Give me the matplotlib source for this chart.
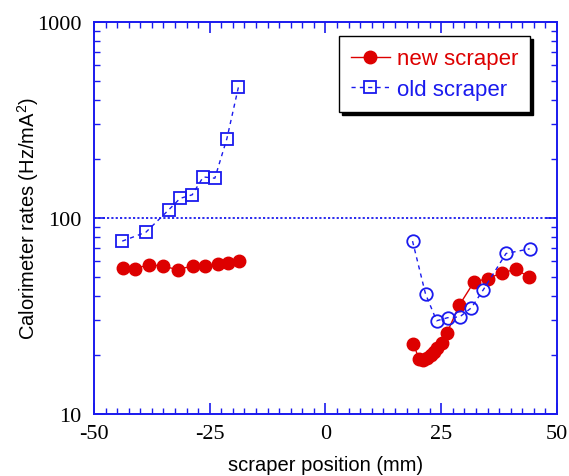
import numpy as np
import matplotlib
matplotlib.use("Agg")
import matplotlib.pyplot as plt
from matplotlib.ticker import FixedLocator, LogLocator, NullFormatter

plt.rcParams["axes.unicode_minus"] = False
plt.rcParams["mathtext.fontset"] = "custom"
plt.rcParams["mathtext.rm"] = "Liberation Sans"
plt.rcParams["mathtext.it"] = "Liberation Sans:italic"

# 数据
new_left_x = [-43.8, -41.1, -38.1, -35.0, -31.9, -28.7, -26.0, -23.2, -21.0, -18.7]
new_left_y = [55.8, 55.1, 57.9, 56.6, 54.6, 56.9, 56.6, 58.4, 59.1, 60.0]
new_right_x = [19.0, 20.2, 21.0, 21.9, 22.7, 23.4, 24.1, 25.1, 26.2, 28.9, 32.1, 35.0, 38.2, 41.1, 44.0]
new_right_y = [22.7, 19.1, 18.9, 19.2, 19.9, 20.8, 21.6, 22.9, 25.8, 35.9, 47.3, 49.0, 52.6, 54.7, 50.0]
old_left_x = [-43.9, -38.8, -33.9, -31.4, -28.8, -26.4, -23.9, -21.3, -18.8]
old_left_y = [76.2, 84.6, 109.8, 125.9, 131.3, 162.0, 159.6, 253.9, 466.0]
old_right_x = [18.8, 21.6, 24.0, 26.4, 29.0, 31.5, 34.1, 39.0, 44.1]
old_right_y = [76.2, 41.0, 29.9, 31.0, 31.3, 34.8, 43.1, 65.9, 69.6]

RED = "#dd0000"
BLUE = "#1a1aee"
SANS = "Liberation Sans"
SERIF = "Liberation Serif"

fig = plt.figure(figsize=(5.69, 4.77), dpi=100)
ax = fig.add_axes([0.1652, 0.130, 0.8137, 0.8218])

ax.plot(new_left_x, new_left_y, color=RED, lw=1, marker="o", ms=9,
        mfc=RED, mec=RED, label="new scraper")
ax.plot(new_right_x, new_right_y, color=RED, lw=1, marker="o", ms=9,
        mfc=RED, mec=RED)
ax.plot(old_left_x, old_left_y, color=BLUE, lw=1, ls=(0, (3, 3)), marker="s",
        ms=8, mfc="none", mec=BLUE, mew=1.3, label="old scraper")
ax.plot(old_right_x, old_right_y, color=BLUE, lw=1, ls=(0, (3, 3)), marker="o",
        ms=9, mfc="none", mec=BLUE, mew=1.3)

ax.axhline(100, color=BLUE, lw=1.3, ls=(0, (1.2, 1.2)))

ax.set_yscale("log")
ax.set_xlim(-50, 50)
ax.set_ylim(10, 1000)

ax.xaxis.set_major_locator(FixedLocator([-50, -25, 0, 25, 50]))
ax.xaxis.set_minor_locator(FixedLocator(np.arange(-50, 50.1, 2.5)))
ax.yaxis.set_major_locator(FixedLocator([10, 100, 1000]))
ax.yaxis.set_minor_locator(LogLocator(base=10, subs=np.arange(2, 10)))
ax.yaxis.set_minor_formatter(NullFormatter())
ax.set_yticklabels(["10", "100", "1000"])
ax.set_xticklabels(["-50", "-25", "0", "25", "50"])

for sp in ax.spines.values():
    sp.set_color(BLUE)
    sp.set_linewidth(1.4)
ax.tick_params(which="both", direction="in", top=True, right=True, color=BLUE)
ax.tick_params(which="major", length=8, width=1.2, labelsize=16)
ax.tick_params(axis="x", which="major", pad=7)
ax.tick_params(axis="y", which="major", pad=9)
ax.tick_params(which="minor", length=4, width=1.0)
for lab in ax.get_xticklabels() + ax.get_yticklabels():
    lab.set_family(SERIF)

ax.set_xlabel("scraper position (mm)", family=SANS, fontsize=14.5, labelpad=9)
ax.set_ylabel("Calorimeter rates (Hz/mA$^2$)", family=SANS, fontsize=14.5, labelpad=-3)

leg = ax.legend(loc="upper right", bbox_to_anchor=(0.942, 0.964), borderaxespad=0,
                prop={"family": SANS, "size": 16}, fancybox=False, framealpha=1,
                edgecolor="black", handlelength=1.75, handletextpad=0.3,
                labelspacing=0.42, borderpad=0.55,
                shadow={"color": "black", "alpha": 1})
leg.get_frame().set_linewidth(1.0)
for txt, c in zip(leg.get_texts(), [RED, BLUE]):
    txt.set_color(c)

fig.savefig("out.png", dpi=100)
